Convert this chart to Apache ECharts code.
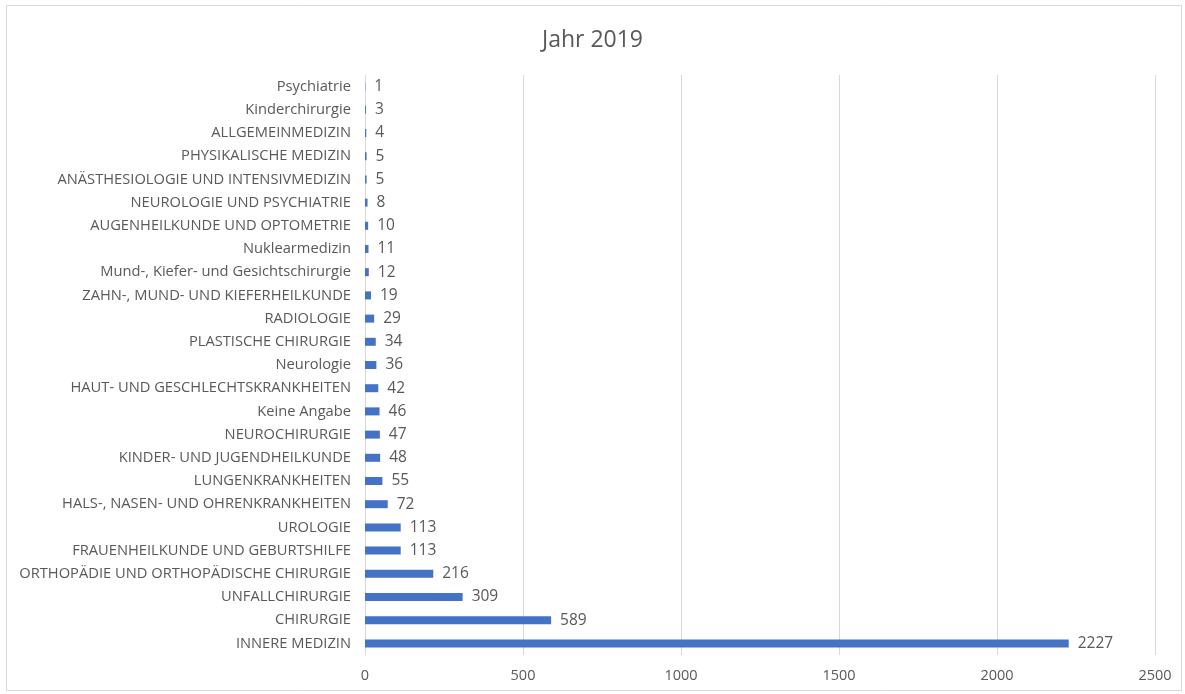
<!DOCTYPE html>
<html><head><meta charset="utf-8">
<script src="https://cdn.jsdelivr.net/npm/echarts@6/dist/echarts.min.js"></script>
<style>html,body{margin:0;padding:0;background:#fff}#c{width:1185px;height:694px}</style>
</head><body><div id="c"></div>
<script>
const categories = ["INNERE MEDIZIN","CHIRURGIE","UNFALLCHIRURGIE","ORTHOPÄDIE UND ORTHOPÄDISCHE CHIRURGIE","FRAUENHEILKUNDE UND GEBURTSHILFE","UROLOGIE","HALS-, NASEN- UND OHRENKRANKHEITEN","LUNGENKRANKHEITEN","KINDER- UND JUGENDHEILKUNDE","NEUROCHIRURGIE","Keine Angabe","HAUT- UND GESCHLECHTSKRANKHEITEN","Neurologie","PLASTISCHE CHIRURGIE","RADIOLOGIE","ZAHN-, MUND- UND KIEFERHEILKUNDE","Mund-, Kiefer- und Gesichtschirurgie","Nuklearmedizin","AUGENHEILKUNDE UND OPTOMETRIE","NEUROLOGIE UND PSYCHIATRIE","ANÄSTHESIOLOGIE UND INTENSIVMEDIZIN","PHYSIKALISCHE MEDIZIN","ALLGEMEINMEDIZIN","Kinderchirurgie","Psychiatrie"];
const values = [2227,589,309,216,113,113,72,55,48,47,46,42,36,34,29,19,12,11,10,8,5,5,4,3,1];
const title = "Jahr 2019";
const chart = echarts.init(document.getElementById('c'));
const font = "'Open Sans', 'Liberation Sans', sans-serif";
chart.setOption({
  animation:false,
  backgroundColor:'#fff',
  title:{text:title,left:'center',top:24,textStyle:{fontFamily:font,fontSize:23,fontWeight:'normal',color:'#595959'}},
  grid:{left:365,right:30,top:75,bottom:39,containLabel:false},
  graphic:[{type:'rect',shape:{x:6.5,y:5.5,width:1175,height:685},style:{fill:'none',stroke:'#d9d9d9',lineWidth:1},silent:true}],
  xAxis:{type:'value',min:0,max:2500,interval:500,
    axisLine:{show:false},axisTick:{show:false},
    splitLine:{lineStyle:{color:'#d9d9d9',width:1}},
    axisLabel:{fontFamily:font,fontSize:14.5,color:'#595959',margin:13,formatter:v=>String(v)}},
  yAxis:{type:'category',data:categories,
    axisLine:{lineStyle:{color:'#d9d9d9'}},axisTick:{show:false},
    axisLabel:{fontFamily:font,fontSize:14.7,color:'#595959',margin:14,interval:0}},
  series:[{type:'bar',data:values,barWidth:8,itemStyle:{color:'#4472C4'},
    label:{show:true,position:'right',distance:9,fontFamily:font,fontSize:15.5,color:'#595959'}}]
});
</script></body></html>
